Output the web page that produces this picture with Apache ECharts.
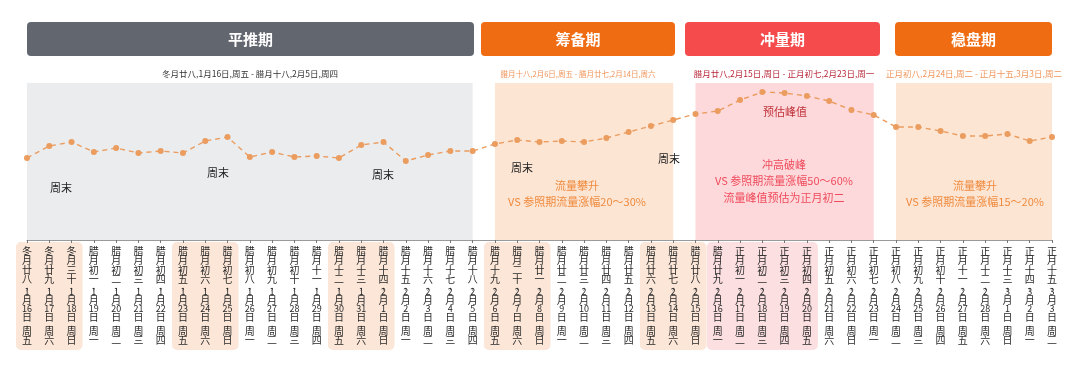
<!DOCTYPE html>
<html><head><meta charset="utf-8">
<script src="https://cdn.jsdelivr.net/npm/echarts@6/dist/echarts.min.js"></script>
<style>html,body{margin:0;padding:0;background:#fff}#c{width:1080px;height:371px}</style>
</head><body><div id="c"></div>
<script>
const categories = [
'冬月廿八,1月16日,周五','冬月廿九,1月17日,周六','冬月三十,1月18日,周日','腊月初一,1月19日,周一','腊月初二,1月20日,周二',
'腊月初三,1月21日,周三','腊月初四,1月22日,周四','腊月初五,1月23日,周五','腊月初六,1月24日,周六','腊月初七,1月25日,周日',
'腊月初八,1月26日,周一','腊月初九,1月27日,周二','腊月初十,1月28日,周三','腊月十一,1月29日,周四','腊月十二,1月30日,周五',
'腊月十三,1月31日,周六','腊月十四,2月1日,周日','腊月十五,2月2日,周一','腊月十六,2月3日,周二','腊月十七,2月4日,周三',
'腊月十八,2月5日,周四','腊月十九,2月6日,周五','腊月二十,2月7日,周六','腊月廿一,2月8日,周日','腊月廿二,2月9日,周一',
'腊月廿三,2月10日,周二','腊月廿四,2月11日,周三','腊月廿五,2月12日,周四','腊月廿六,2月13日,周五','腊月廿七,2月14日,周六',
'腊月廿八,2月15日,周日','腊月廿九,2月16日,周一','正月初一,2月17日,周二','正月初二,2月18日,周三','正月初三,2月19日,周四',
'正月初四,2月20日,周五','正月初五,2月21日,周六','正月初六,2月22日,周日','正月初七,2月23日,周一','正月初八,2月24日,周二',
'正月初九,2月25日,周三','正月初十,2月26日,周四','正月十一,2月27日,周五','正月十二,2月28日,周六','正月十三,3月1日,周日',
'正月十四,3月2日,周一','正月十五,3月3日,周二'];
const trafficValues = [82,94,98,88,92,87,89,87,99,103,83,88,83,84,82,95,98,79,85,89,89,96,100,98,99,98,102,108,114,120,126,129,140,148,147,144,139,130,125,113,113,109,104,104,106,99,103];
const phaseNames = ['平推期','筹备期','冲量期','稳盘期'];
const phaseRanges = ['冬月廿八,1月16日,周五 - 腊月十八,2月5日,周四','腊月十八,2月6日,周五 - 腊月廿七,2月14日,周六','腊月廿八,2月15日,周日 - 正月初七,2月23日,周一','正月初八,2月24日,周二 - 正月十五,3月3日,周二'];
const phaseStartEnd = [[0,20],[21,29],[30,38],[39,46]];
const weekendGroups = [[0,2],[7,9],[14,16],[21,23],[28,30]];
const festivalGroup = [31,35];

const FONT = '"Noto Sans CJK SC","Noto Sans",sans-serif';
const chart = echarts.init(document.getElementById('c'));

function fmt(v){
  const toks = v.match(/\d+|./g);
  return toks.map(t => t === ',' ? '{c|,}' : (/^\d+$/.test(t) ? '{d|' + t + '}' : '{n|' + t + '}')).join('\n');
}

const areaColors = ['#ebecee','#fde5d4','#fdd9db','#fde5d4'];
const lab = {color:'#2a2a2a',fontFamily:FONT,align:'center'};

chart.setOption({
  animation:false,
  textStyle:{fontFamily:FONT},
  grid:{left:27,right:28,top:83,bottom:131},
  xAxis:{type:'category',data:categories,boundaryGap:false,
    axisLine:{lineStyle:{color:'#9a9a9a',width:1}},
    axisTick:{show:true,length:3,lineStyle:{color:'#777'}},
    axisLabel:{interval:0,margin:6,formatter:fmt,
      rich:{n:Object.assign({fontSize:10,lineHeight:9.5},lab),
            d:Object.assign({fontSize:9,lineHeight:7.5},lab),
            c:Object.assign({fontSize:9,lineHeight:4},lab)}}},
  yAxis:{type:'value',min:0,max:157,show:false,splitLine:{show:false}},
  series:[{type:'line',data:trafficValues,
    symbol:'circle',symbolSize:6,
    itemStyle:{color:'#eb9c5f'},
    lineStyle:{color:'#eb9c5f',width:1.4,type:[5,4]},
    markArea:{silent:true,
      data:phaseStartEnd.map((r,i)=>[{xAxis:r[0],itemStyle:{color:areaColors[i]}},{xAxis:r[1]}])},
    z:5}]
});

const px = i => chart.convertToPixel({xAxisIndex:0}, i);
const g = [];
weekendGroups.forEach(r=>{
  const x0 = px(r[0]) - 11, x1 = px(r[1]) + 11;
  g.push({type:'rect',z:-10,shape:{x:x0,y:242,width:x1-x0,height:108,r:5},style:{fill:'#fbe6d7'}});
});
{
  const x0 = px(festivalGroup[0]) - 11, x1 = px(festivalGroup[1]) + 11;
  g.push({type:'rect',z:-10,shape:{x:x0,y:242,width:x1-x0,height:108,r:5},style:{fill:'#fcdfe0'}});
}
const headerBars = [[27,474,'#62666e'],[481,675,'#ef6c12'],[685,880,'#f54b4c'],[895,1052,'#ef6c12']];
headerBars.forEach((b,i)=>{
  g.push({type:'rect',shape:{x:b[0],y:22,width:b[1]-b[0],height:34,r:4},style:{fill:b[2]}});
  g.push({type:'text',x:(b[0]+b[1])/2,y:39,style:{text:phaseNames[i],fill:'#fff',font:'bold 15px '+FONT,align:'center',verticalAlign:'middle'}});
});
const rangeStyle = [[250,'#333',8.5],[578,'#f0955a',7.5],[784,'#b8283a',8.5],[974,'#f0955a',8.5]];
rangeStyle.forEach((s,i)=>{
  g.push({type:'text',x:s[0],y:74,style:{text:phaseRanges[i],fill:s[1],font:s[2]+'px '+FONT,align:'center',verticalAlign:'middle'}});
});
const notes = [
  [61,188,'周末','#222'],[218,173,'周末','#222'],[383,175,'周末','#222'],[522,168,'周末','#222'],[669,159,'周末','#222'],
  [785,112,'预估峰值','#c0323a'],
  [577,194,'流量攀升\nVS 参照期流量涨幅20～30%','#ef8a3c'],
  [784,181,'冲高破峰\nVS 参照期流量涨幅50～60%\n流量峰值预估为正月初二','#ef4b5c'],
  [975,194,'流量攀升\nVS 参照期流量涨幅15～20%','#ef8a3c']
];
notes.forEach(n=>{
  g.push({type:'text',x:n[0],y:n[1],z:10,style:{text:n[2],fill:n[3],font:'11px '+FONT,align:'center',verticalAlign:'middle',lineHeight:16.5}});
});
chart.setOption({graphic:g});
</script></body></html>
